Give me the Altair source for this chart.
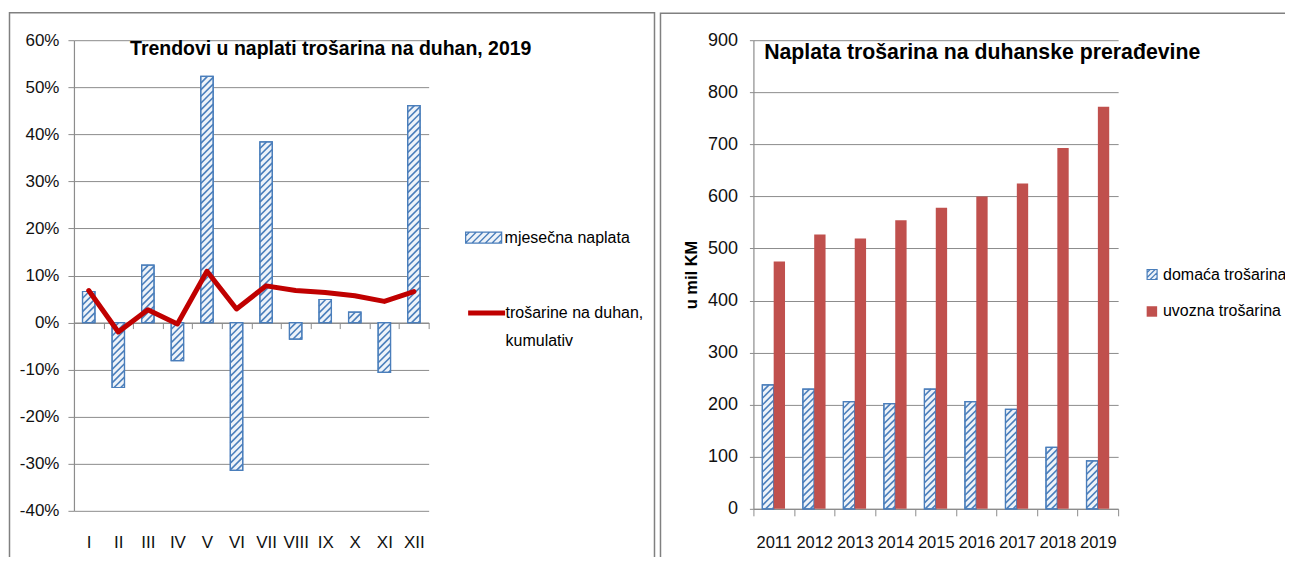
import json
import altair as alt
import pandas as pd

# ---------------- data ----------------
header_text = "Grafikon 23"

left_title = "Trendovi u naplati trošarina na duhan, 2019"
months = ["I", "II", "III", "IV", "V", "VI", "VII", "VIII", "IX", "X", "XI", "XII"]
monthly = [6.6, -13.8, 12.2, -8.1, 52.3, -31.4, 38.4, -3.5, 4.9, 2.2, -10.6, 46.1]
cumulative = [6.8, -2.0, 2.7, -0.3, 10.9, 2.9, 7.8, 6.8, 6.4, 5.7, 4.5, 6.6]
bar_legend = "mjesečna naplata"
line_legend = ["trošarine na duhan,", "kumulativ"]

right_title = "Naplata trošarina na duhanske prerađevine"
y_title = "u mil KM"
years = [2011, 2012, 2013, 2014, 2015, 2016, 2017, 2018, 2019]
domestic = [238, 230, 206, 202, 230, 206, 191, 118, 92]
imports = [475, 527, 519, 554, 578, 600, 625, 693, 772]
series_names = ["domaća trošarina", "uvozna trošarina"]

# ---------------- style ----------------
FONT = "Liberation Sans, Arial, sans-serif"
BLUE = "#4a7ebb"
LIGHT = "#eef3f9"
RED_BAR = "#c0504d"
RED_LINE = "#c00000"
GRID = "#8c8c8c"
BORDER = "#808080"
STEP = 6.7  # hatch spacing along the diagonal

W1, H1 = 355, 471
W2, H2 = 365, 469
KX1, KY1 = W1 / 12, H1 / 100
KX2, KY2 = W2 / 9, H2 / 900


def hatch_path(w, h, r, s):
    hw, hh = w / 2, h / 2
    parts = [f"M{-hw / r:.3f},{-hh / r:.3f}H{hw / r:.3f}V{hh / r:.3f}H{-hw / r:.3f}Z"]
    c = -hw - hh + s * 0.6
    while c < hw + hh:
        xs = max(-hw, c - hh)
        xe = min(hw, c + hh)
        if xe > xs:
            parts.append(f"M{xs / r:.3f},{(c - xs) / r:.3f}L{xe / r:.3f},{(c - xe) / r:.3f}")
        c += s
    return "".join(parts)


def hatched(chart, xlo, xhi, val, kx, ky):
    return (
        chart.transform_calculate(
            hX0=f"({xlo})*{kx}",
            hX1=f"({xhi})*{kx}",
            hYt=f"-max({val},0)*{ky}",
            hYb=f"-min({val},0)*{ky}",
        )
        .transform_calculate(
            hN=f"floor((datum.hX1 + datum.hYb - datum.hX0 - datum.hYt)/{STEP})"
        )
        .transform_calculate(hK="sequence(1, datum.hN + 1)")
        .transform_flatten(["hK"])
        .transform_calculate(hC=f"datum.hX0 + datum.hYt + datum.hK*{STEP}")
        .transform_calculate(
            hXs="max(datum.hX0, datum.hC - datum.hYb)",
            hXe="min(datum.hX1, datum.hC - datum.hYt)",
        )
        .transform_calculate(
            hx1=f"datum.hXs/{kx}",
            hx2=f"datum.hXe/{kx}",
            hy1=f"-(datum.hC - datum.hXs)/{ky}",
            hy2=f"-(datum.hC - datum.hXe)/{ky}",
        )
        .transform_filter("datum.hx2 > datum.hx1")
    )


# ---------------- left chart ----------------
df1 = pd.DataFrame({"idx": list(range(1, len(months) + 1)), "m": months,
                    "v": monthly, "c": cumulative})
base1 = alt.Chart(df1)
xs1 = alt.Scale(domain=[0.5, 12.5], nice=False, zero=False)
ys1 = alt.Scale(domain=[-40, 60], nice=False, zero=False)

x_axis1 = alt.Axis(
    values=[i + 0.5 for i in range(len(months) + 1)],
    offset=-40 * KY1,
    labelExpr=json.dumps(months) + "[round(datum.value - 0.5)] || ''",
    labelOffset=KX1 / 2, labelPadding=206, tickSize=6, grid=False, title=None,
    labelFontSize=17, labelOverlap=False, labelFlush=False, labelAngle=0,
)
y_axis1 = alt.Axis(
    values=list(range(-40, 61, 10)), labelExpr="datum.value + '%'",
    tickSize=6, labelPadding=9, labelFontSize=17, grid=True, title=None,
)
X1 = dict(scale=xs1, axis=x_axis1)
Y1 = dict(scale=ys1, axis=y_axis1)

border1 = alt.Chart(pd.DataFrame({"k": [0]})).mark_rect(
    fillOpacity=0, stroke=BORDER, strokeWidth=1.5
).encode(x=alt.value(-64.5), x2=alt.value(581), y=alt.value(-27.5), y2=alt.value(530))

bar_fill1 = (
    base1.transform_calculate(x0="datum.idx - 0.21", x1="datum.idx + 0.21",
                              lab=json.dumps(bar_legend))
    .mark_rect(stroke=BLUE, strokeWidth=1.2)
    .encode(
        x=alt.X("x0:Q", **X1),
        x2="x1:Q",
        y=alt.Y("v:Q", **Y1),
        y2=alt.datum(0),
        fill=alt.Fill("lab:N", scale=alt.Scale(domain=[bar_legend], range=[LIGHT]),
                      legend=alt.Legend(
                          orient="none", legendX=391, legendY=178.5, title=None,
                          symbolType=hatch_path(36, 11, 18, STEP), symbolSize=1296,
                          symbolStrokeColor=BLUE, symbolStrokeWidth=1.3,
                          symbolFillColor=LIGHT, labelFont=FONT, labelFontSize=16,
                          labelColor="black", labelOffset=2, padding=0, labelLimit=400)),
    )
)

hatch1 = hatched(base1, "datum.idx - 0.21", "datum.idx + 0.21", "datum.v", KX1, KY1).mark_rule(
    stroke=BLUE, strokeWidth=1.6
).encode(
    x=alt.X("hx1:Q", **X1), x2="hx2:Q",
    y=alt.Y("hy1:Q", **Y1), y2="hy2:Q",
)

outline1 = (
    base1.transform_calculate(x0="datum.idx - 0.21", x1="datum.idx + 0.21")
    .mark_rect(fillOpacity=0, stroke=BLUE, strokeWidth=1.2)
    .encode(x=alt.X("x0:Q", **X1), x2="x1:Q",
            y=alt.Y("v:Q", **Y1), y2=alt.datum(0))
)

line1 = (
    base1.transform_calculate(lab2=json.dumps(line_legend[0]))
    .mark_line(strokeWidth=5, strokeJoin="round", strokeCap="round")
    .encode(
        x=alt.X("idx:Q", **X1),
        y=alt.Y("c:Q", **Y1),
        stroke=alt.Stroke("lab2:N",
                          scale=alt.Scale(domain=line_legend, range=[RED_LINE, "rgba(0,0,0,0)"]),
                          legend=alt.Legend(
                              orient="none", legendX=405, legendY=265, title=None,
                              symbolType="M-3.7,0H3.7", symbolSize=100, symbolStrokeWidth=5,
                              labelFont=FONT, labelFontSize=16, labelColor="black",
                              labelOffset=11, rowPadding=8.5, padding=0, labelLimit=400)),
    )
)

title1 = alt.Chart(pd.DataFrame({"t": [left_title]})).mark_text(
    font=FONT, fontSize=19.5, fontWeight="bold", align="center", baseline="middle", color="black"
).encode(text="t:N", x=alt.value(257), y=alt.value(8.5))

left = alt.layer(border1, bar_fill1, hatch1, outline1, line1, title1).properties(
    width=W1, height=H1
)

# ---------------- right chart ----------------
df2 = pd.DataFrame({"idx": list(range(1, len(years) + 1)), "year": years,
                    "dom": domestic, "imp": imports})
base2 = alt.Chart(df2)
xs2 = alt.Scale(domain=[0.5, 9.5], nice=False, zero=False)
ys2 = alt.Scale(domain=[0, 900], nice=False, zero=False)

x_axis2 = alt.Axis(
    values=[i + 0.5 for i in range(len(years) + 1)],
    labelExpr=json.dumps([str(y) for y in years]) + "[round(datum.value - 0.5)] || ''",
    labelOffset=KX2 / 2, labelPadding=19, tickSize=7, grid=False, title=None,
    labelFontSize=16.5, labelOverlap=False, labelFlush=False, labelAngle=0,
)
y_axis2 = alt.Axis(
    values=list(range(0, 901, 100)), tickSize=4, labelPadding=12, labelFontSize=18,
    grid=True, title=y_title, titleFont=FONT, titleFontSize=16.5, titleFontWeight="bold",
    titleColor="black", titlePadding=8,
)
X2 = dict(scale=xs2, axis=x_axis2)
Y2 = dict(scale=ys2, axis=y_axis2)

border2 = alt.Chart(pd.DataFrame({"k": [0]})).mark_rect(
    fillOpacity=0, stroke=BORDER, strokeWidth=1.5
).encode(x=alt.value(-93), x2=alt.value(560), y=alt.value(-27), y2=alt.value(530))

dom_bars = (
    base2.transform_calculate(x0="datum.idx - 0.28", x1="datum.idx",
                              lab=json.dumps(series_names[0]))
    .mark_rect(stroke=BLUE, strokeWidth=1.2)
    .encode(
        x=alt.X("x0:Q", **X2), x2="x1:Q",
        y=alt.Y("dom:Q", **Y2), y2=alt.datum(0),
        fill=alt.Fill("lab:N", scale=alt.Scale(domain=[series_names[0]], range=[LIGHT]),
                      legend=alt.Legend(
                          orient="none", legendX=391, legendY=226.5, title=None,
                          symbolType=hatch_path(10, 10, 5, STEP * 0.75), symbolSize=100,
                          symbolStrokeColor=BLUE, symbolStrokeWidth=1.2,
                          symbolFillColor=LIGHT, labelFont=FONT, labelFontSize=16,
                          labelColor="black", labelOffset=3, padding=0, labelLimit=400)),
    )
)

dom_hatch = hatched(base2, "datum.idx - 0.28", "datum.idx", "datum.dom", KX2, KY2).mark_rule(
    stroke=BLUE, strokeWidth=1.6
).encode(
    x=alt.X("hx1:Q", **X2), x2="hx2:Q",
    y=alt.Y("hy1:Q", **Y2), y2="hy2:Q",
)

dom_outline = (
    base2.transform_calculate(x0="datum.idx - 0.28", x1="datum.idx")
    .mark_rect(fillOpacity=0, stroke=BLUE, strokeWidth=1.2)
    .encode(x=alt.X("x0:Q", **X2), x2="x1:Q",
            y=alt.Y("dom:Q", **Y2), y2=alt.datum(0))
)

imp_bars = (
    base2.transform_calculate(x0="datum.idx", x1="datum.idx + 0.28",
                              lab=json.dumps(series_names[1]))
    .mark_rect()
    .encode(
        x=alt.X("x0:Q", **X2), x2="x1:Q",
        y=alt.Y("imp:Q", **Y2), y2=alt.datum(0),
        fill=alt.Fill("lab:N", scale=alt.Scale(domain=[series_names[1]], range=[RED_BAR]),
                      legend=alt.Legend(
                          orient="none", legendX=390.8, legendY=263.5, title=None,
                          symbolType="square", symbolSize=110, symbolStrokeWidth=0,
                          labelFont=FONT, labelFontSize=16, labelColor="black",
                          labelOffset=3, padding=0, labelLimit=400)),
    )
)

title2 = alt.Chart(pd.DataFrame({"t": [right_title]})).mark_text(
    font=FONT, fontSize=21.3, fontWeight="bold", align="center", baseline="middle", color="black"
).encode(text="t:N", x=alt.value(229), y=alt.value(13))

right = (
    alt.layer(border2, dom_bars, dom_hatch, dom_outline, imp_bars, title2)
    .resolve_scale(fill="independent")
    .properties(width=W2, height=H2)
)

chart = (
    alt.hconcat(left, right, spacing=4)
    .resolve_scale(fill="independent", stroke="independent")
    .resolve_legend(fill="independent", stroke="independent")
    .properties(
        title=alt.TitleParams(header_text, font=FONT, fontSize=16, fontWeight="normal",
                              color="black", anchor="middle", dx=28, offset=4),
        padding={"left": 0, "top": -17, "right": -29, "bottom": -14},
        background="white",
    )
    .configure_view(strokeWidth=0)
    .configure_axis(
        gridColor=GRID, gridWidth=1, domainColor=GRID, tickColor=GRID,
        labelColor="#111111", labelFont=FONT, domainWidth=1.2,
    )
)

chart.save("out.html", embed_options={"renderer": "svg", "actions": False})
